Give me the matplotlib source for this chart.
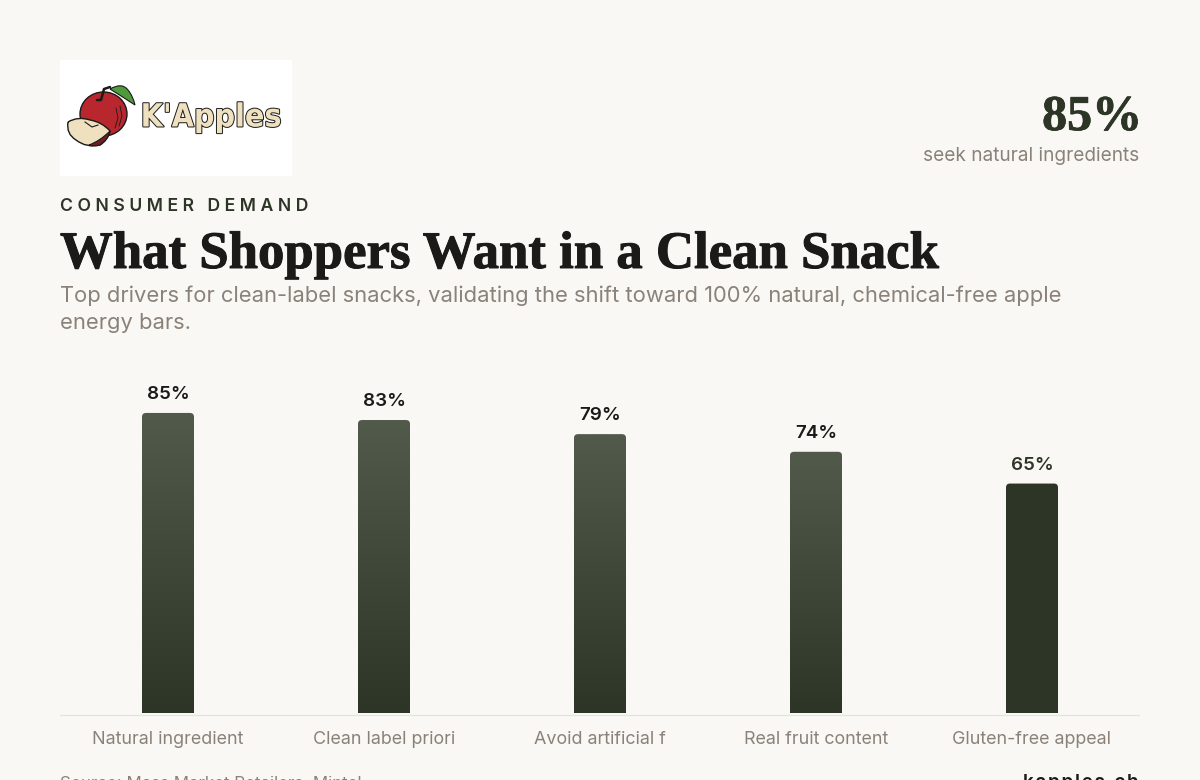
import matplotlib
matplotlib.use('Agg')
import numpy as np
import matplotlib.pyplot as plt
from matplotlib.path import Path
from matplotlib.patches import PathPatch, Ellipse, Rectangle
import matplotlib.patheffects as pe

categories = ['Natural ingredient', 'Clean label priori', 'Avoid artificial f', 'Real fruit content', 'Gluten-free appeal']
values = [85, 83, 79, 74, 65]
value_labels = ['85%', '83%', '79%', '74%', '65%']
highlight = [False, False, False, False, True]

BG = '#faf8f5'
DARK = '#2d3626'
LIGHT = '#525a4b'
INK = '#1a1a18'
MUTED = '#8a8279'
RULE = '#e5e2da'
W, H = 1200, 780
HAIR = '\u200a'

plt.rcParams['font.family'] = ['Inter', 'DejaVu Sans']

def spaced(s, sep=HAIR):
    return sep.join(s)

def px(x, y):
    return x / W, 1 - y / H

def curve(points):
    # closed outline of quadratic segments: start, then control/end pairs
    codes = [Path.MOVETO] + [Path.CURVE3] * (len(points) - 1)
    return Path(points, codes)

fig = plt.figure(figsize=(12, 7.8), dpi=100, facecolor=BG)

# logo card, everything inside is in pixel coordinates
logo = fig.add_axes([60 / W, 1 - 176 / H, 232 / W, 116 / H])
logo.set_xlim(60, 292)
logo.set_ylim(176, 60)
logo.axis('off')
logo.add_patch(Rectangle((60, 60), 232, 116, fc='white', ec='none'))
logo.add_patch(Ellipse((103.5, 114), 47, 44, fc='#b8272e', ec=INK, lw=1))
logo.plot([116, 118, 115], [108, 118, 128], color=INK, lw=0.6)
logo.plot([120, 122, 119], [106, 116, 126], color=INK, lw=0.6)
leaf = curve([(110, 89), (122, 82), (128, 90), (133, 96), (135, 105), (126, 99), (110, 89)])
logo.add_patch(PathPatch(leaf, fc='#4f9a3a', ec=INK, lw=0.8))
logo.plot([97, 101, 104, 110], [100, 100, 89, 87], color=INK, lw=1.8, solid_capstyle='round')
wedge = curve([(68, 122), (78, 116), (90, 120), (102, 122), (110, 131), (108, 140), (100, 145),
               (86, 148), (76, 140), (66, 134), (68, 122)])
logo.add_patch(PathPatch(wedge, fc='#efe0c0', ec=INK, lw=1))
rind = curve([(110, 131), (108, 140), (100, 145), (92, 147), (89, 145), (100, 141), (110, 131)])
logo.add_patch(PathPatch(rind, fc='#6d1f25', ec=INK, lw=0.8))
logo.plot([85, 92, 98], [122, 127, 125], color=INK, lw=0.8)
logo.text(211, 118, "K'Apples", fontsize=23, family=['DejaVu Sans'], fontstretch='condensed', fontweight='bold',
          color='#efe0c0', ha='center', va='center',
          path_effects=[pe.withStroke(linewidth=1.4, foreground=INK)])

# header block
fig.text(*px(1142, 130), '85%', fontsize=36, family=['Liberation Serif'], fontweight='bold', color=DARK, ha='right', va='baseline',
         path_effects=[pe.withStroke(linewidth=0.6, foreground=DARK)])
fig.text(*px(1139, 161), 'seek natural ingredients', fontsize=13.7, color=MUTED, ha='right', va='baseline')
fig.text(*px(60, 211), spaced('CONSUMER DEMAND', HAIR * 3), fontsize=12.7, fontweight='semibold', color=DARK, ha='left', va='baseline')
fig.text(*px(60, 268), 'What Shoppers Want in a Clean Snack', fontsize=38, family=['Liberation Serif'], fontweight='bold', color=INK,
         ha='left', va='baseline', path_effects=[pe.withStroke(linewidth=0.7, foreground=INK)])
fig.text(*px(60, 302), 'Top drivers for clean-label snacks, validating the shift toward 100% natural, chemical-free apple', fontsize=15.8, color=MUTED, ha='left', va='baseline')
fig.text(*px(60, 329), 'energy bars.', fontsize=15.8, color=MUTED, ha='left', va='baseline')

# bar panel: 3.53 px per percentage point, zero sits at pixel row 713
ax = fig.add_axes([60 / W, 1 - 713 / H, 1080 / W, 353 / H], facecolor='none')
x = np.arange(len(categories))
bars = ax.bar(x, values, width=52 / 216)
gradient = np.array([matplotlib.colors.to_rgb(LIGHT), matplotlib.colors.to_rgb(DARK)])
ramp = np.linspace(0, 1, 256)[:, None]
ramp_img = (gradient[0] * (1 - ramp) + gradient[1] * ramp)[:, None, :]
flat_img = np.array(matplotlib.colors.to_rgb(DARK))[None, None, :]
rx, ry = 4 / 216, 4 / 3.53
for bar, hl, lab in zip(bars, highlight, value_labels):
    x0, y0, w, h = bar.get_x(), bar.get_y(), bar.get_width(), bar.get_height()
    x1, y1 = x0 + w, y0 + h
    outline = Path([(x0, y0), (x0, y1 - ry), (x0, y1), (x0 + rx, y1), (x1 - rx, y1), (x1, y1), (x1, y1 - ry), (x1, y0), (x0, y0)],
                   [Path.MOVETO, Path.LINETO, Path.CURVE3, Path.CURVE3, Path.LINETO, Path.CURVE3, Path.CURVE3, Path.LINETO, Path.CLOSEPOLY])
    im = ax.imshow(flat_img if hl else ramp_img, extent=(x0, x1, y0, y1), aspect='auto', interpolation='bilinear', zorder=2)
    im.set_clip_path(PathPatch(outline, transform=ax.transData))
    bar.set_visible(False)
    ax.annotate(lab, (x0 + w / 2, y1), xytext=(0, 10), textcoords='offset pixels', ha='center', va='bottom',
                fontsize=13.5, fontweight='semibold', color=DARK if hl else INK)
ax.set_xlim(-0.5, 4.5)
ax.set_ylim(0, 100)
ax.set_yticks([])
ax.set_xticks(x)
ax.set_xticklabels(categories, fontsize=12.9, color=MUTED)
ax.tick_params(axis='x', length=0, pad=13)
for s in ax.spines.values():
    s.set_visible(False)
fig.add_artist(plt.Line2D([60 / W, 1139 / W], [1 - 715 / H] * 2, color=RULE, lw=0.8))

# footer runs off the lower edge
fig.text(*px(60, 788), 'Source: Mass Market Retailers, Mintel', fontsize=12.2, color=MUTED, ha='left', va='baseline')
fig.text(*px(1139, 788), spaced('kapples.ch'), fontsize=13.7, fontweight='semibold', color=INK, ha='right', va='baseline')

fig.savefig('out.png', dpi=100, facecolor=BG)
